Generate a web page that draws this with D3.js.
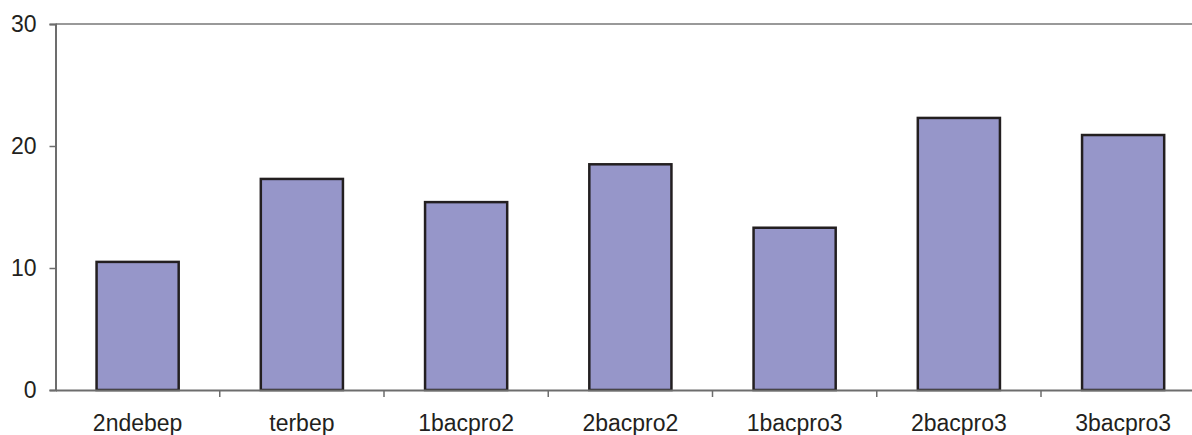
<!DOCTYPE html>
<html>
<head>
<meta charset="utf-8">
<script src="https://cdn.jsdelivr.net/npm/d3@7"></script>
<style>
  body { margin: 0; background: #fff; }
  text { font-family: "Liberation Sans", Arial, sans-serif; }
</style>
</head>
<body>
<div id="wrapper"></div>
<script>
const categories = ["2ndebep", "terbep", "1bacpro2", "2bacpro2", "1bacpro3", "2bacpro3", "3bacpro3"]
const values = [10.5, 17.3, 15.4, 18.5, 13.3, 22.3, 20.9]
const yTicks = [0, 10, 20, 30]

const dimensions = {
  width: 1192,
  height: 435,
  margin: { top: 24, left: 55.5, bottom: 45 }
}
dimensions.boundedHeight = dimensions.height - dimensions.margin.top - dimensions.margin.bottom
const bandStep = 164.25

const svg = d3.select("#wrapper")
  .append("svg")
  .attr("width", dimensions.width)
  .attr("height", dimensions.height)

const bounds = svg.append("g")
  .attr("transform", `translate(${dimensions.margin.left}, ${dimensions.margin.top})`)

// scales
const xScale = d3.scaleBand()
  .domain(categories)
  .range([0, bandStep * categories.length])
  .paddingInner(0.5)
  .paddingOuter(0.25)

const yScale = d3.scaleLinear()
  .domain([0, 30])
  .range([dimensions.boundedHeight, 0])

// top gridline at 30
bounds.append("line")
  .attr("x1", 0)
  .attr("x2", dimensions.width)
  .attr("y1", yScale(30))
  .attr("y2", yScale(30))
  .attr("stroke", "#999")
  .attr("stroke-width", 2)

// bars
bounds.selectAll("rect.bar")
  .data(values)
  .join("rect")
  .attr("class", "bar")
  .attr("x", (d, i) => xScale(categories[i]))
  .attr("y", d => yScale(d))
  .attr("width", xScale.bandwidth())
  .attr("height", d => yScale(0) - yScale(d))
  .attr("fill", "#9696c9")
  .attr("stroke", "#231f20")
  .attr("stroke-width", 2.5)

// y axis
const yAxis = bounds.append("g")
  .call(d3.axisLeft(yScale).tickValues(yTicks).tickSize(6).tickPadding(13))
yAxis.select(".domain").attr("stroke", "#6d6d6d").attr("stroke-width", 2)
yAxis.selectAll(".tick line").attr("stroke", "#6d6d6d").attr("stroke-width", 1.5)
yAxis.selectAll(".tick text")
  .attr("fill", "#231f20")
  .style("font-size", "23px")

// x axis
const xAxis = bounds.append("g")
  .attr("transform", `translate(0, ${dimensions.boundedHeight})`)
  .call(d3.axisBottom(xScale).tickSize(0).tickPadding(25))
xAxis.select(".domain").attr("stroke", "#6d6d6d").attr("stroke-width", 2)
xAxis.selectAll(".tick text")
  .attr("fill", "#231f20")
  .style("font-size", "23px")

// category separator ticks
xAxis.selectAll("line.sep")
  .data(d3.range(1, categories.length))
  .join("line")
  .attr("class", "sep")
  .attr("x1", i => i * xScale.step())
  .attr("x2", i => i * xScale.step())
  .attr("y1", 0)
  .attr("y2", 7)
  .attr("stroke", "#6d6d6d")
  .attr("stroke-width", 1.5)
</script>
</body>
</html>
